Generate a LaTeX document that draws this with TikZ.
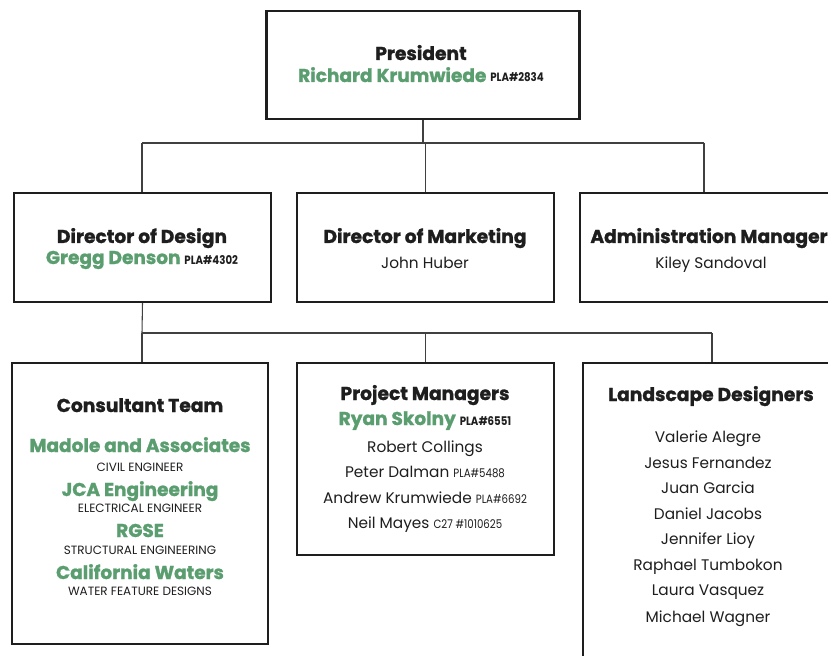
\documentclass[tikz,border=0pt]{standalone}
\usepackage{fontspec}
\setmainfont{Poppins}
\newfontfamily\cond[FakeStretch=0.85]{Poppins}
\newfontfamily\heavy[BoldFeatures={FakeBold=1.2}]{Poppins}
\definecolor{grn}{RGB}{90,158,112}
\definecolor{ink}{RGB}{30,30,30}
\newcommand{\licf}{\fontsize{9}{11}\selectfont\cond\color{ink}}
\tikzset{
  box/.style={draw=ink, line width=1.6pt, rectangle, inner sep=0pt},
  conn/.style={draw=ink!85, line width=0.8pt},
  ttl/.style={anchor=base, text=ink, font=\fontsize{14}{16}\selectfont\heavy\bfseries},
  gname/.style={anchor=base, text=grn, font=\fontsize{13.9}{16}\selectfont\heavy\bfseries},
  pname/.style={anchor=base, text=ink, font=\fontsize{11.5}{13}\selectfont},
  role/.style={anchor=base, text=ink, font=\fontsize{9}{11}\selectfont}
}
\begin{document}
\begin{tikzpicture}[x=0.75pt,y=-0.75pt]
\useasboundingbox (0,0) rectangle (828,656);
\fill[white] (0,0) rectangle (828,656);
% boxes
\node[box, minimum width=313*0.75pt, minimum height=108*0.75pt] (pres) at (423,65) {};
\node[box, minimum width=257*0.75pt, minimum height=109*0.75pt] (dd) at (142.5,247.5) {};
\node[box, minimum width=257*0.75pt, minimum height=109*0.75pt] (dm) at (425.5,247.5) {};
\node[box, minimum width=257*0.75pt, minimum height=109*0.75pt] (am) at (708.5,247.5) {};
\node[box, minimum width=256*0.75pt, minimum height=281*0.75pt] (ct) at (140,503.5) {};
\node[box, minimum width=257*0.75pt, minimum height=192*0.75pt] (pm) at (425.5,459) {};
\node[box, minimum width=257*0.75pt, minimum height=337*0.75pt] (ld) at (711.5,531.5) {};
% connectors
\coordinate (j1) at (423,143);
\coordinate (j1l) at (142,143);
\coordinate (j1r) at (704,143);
\coordinate (j2) at (142,333);
\coordinate (j2r) at (712,333);
\draw[conn] (pres.south) -- (j1);
\draw[conn] (j1l) -- (j1r);
\draw[conn] (j1l) -- (j1l |- dd.north);
\draw[conn] (j1 -| dm.north) -- (dm.north);
\draw[conn] (j1r) -- (j1r |- am.north);
\draw[conn] (dd.south) -- (j2);
\draw[conn] (j2) -- (j2r);
\draw[conn] (j2) -- (j2 |- ct.north);
\draw[conn] (j2 -| pm.north) -- (pm.north);
\draw[conn] (j2r) -- (j2r |- ld.north);
% President
\node[ttl] (t1) at (421,60) {President};
\node[gname] (n1) at (421,82) {Richard Krumwiede {\licf PLA\#2834}};
% Directors
\node[ttl] (t2) at (142,243) {Director of Design};
\node[gname] (n2) at (142,264) {Gregg Denson {\licf PLA\#4302}};
\node[ttl] (t3) at (425,243) {Director of Marketing};
\node[pname] (n3) at (425,268) {John Huber};
\node[ttl] (t4) at (709,243) {Administration Manager};
\node[pname] (n4) at (711,268) {Kiley Sandoval};
% Consultant team
\node[ttl] (t5) at (140,412) {Consultant Team};
\node[gname] (c1) at (140,452) {Madole and Associates};
\node[role] (r1) at (140,471) {CIVIL ENGINEER};
\node[gname] (c2) at (140,496) {JCA Engineering};
\node[role] (r2) at (140,512) {ELECTRICAL ENGINEER};
\node[gname] (c3) at (140,537) {RGSE};
\node[role] (r3) at (140,554) {STRUCTURAL ENGINEERING};
\node[gname] (c4) at (140,579) {California Waters};
\node[role] (r4) at (140,595) {WATER FEATURE DESIGNS};
% Project managers
\node[ttl] (t6) at (425,400) {Project Managers};
\node[gname] (p1) at (425,425) {Ryan Skolny {\licf PLA\#6551}};
\node[pname] (p2) at (425,452) {Robert Collings};
\node[pname] (p3) at (425,477) {Peter Dalman {\licf PLA\#5488}};
\node[pname] (p4) at (425,503) {Andrew Krumwiede {\licf PLA\#6692}};
\node[pname] (p5) at (425,528) {Neil Mayes {\licf C27 \#1010625}};
% Landscape designers
\node[ttl] (t7) at (711,401) {Landscape Designers};
\node[pname] (l1) at (708,442) {Valerie Alegre};
\node[pname] (l2) at (708,468) {Jesus Fernandez};
\node[pname] (l3) at (708,493) {Juan Garcia};
\node[pname] (l4) at (708,519) {Daniel Jacobs};
\node[pname] (l5) at (708,544) {Jennifer Lioy};
\node[pname] (l6) at (708,570) {Raphael Tumbokon};
\node[pname] (l7) at (708,595) {Laura Vasquez};
\node[pname] (l8) at (708,622) {Michael Wagner};
\end{tikzpicture}
\end{document}
